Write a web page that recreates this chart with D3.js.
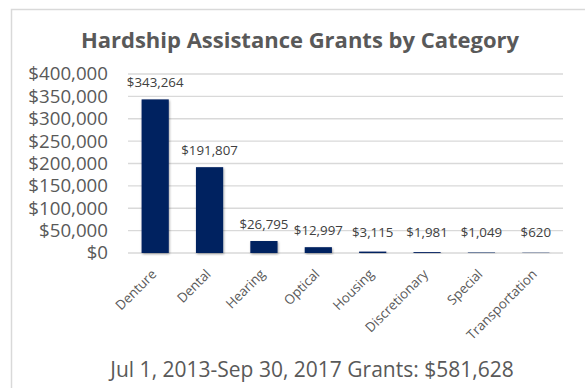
<!DOCTYPE html>
<html>
<head>
<meta charset="utf-8">
<script src="https://cdn.jsdelivr.net/npm/d3@7"></script>
<style>
  html, body { margin: 0; padding: 0; background: #fff; }
  svg { display: block; font-family: "Open Sans", "Liberation Sans", sans-serif; }
</style>
</head>
<body>
<svg id="chart" width="585" height="388"></svg>
<script>
// Grant totals per hardship category
const categories = ["Denture", "Dental", "Hearing", "Optical", "Housing", "Discretionary", "Special", "Transportation"];
const grants = [343264, 191807, 26795, 12997, 3115, 1981, 1049, 620];
const yTicks = [0, 50000, 100000, 150000, 200000, 250000, 300000, 350000, 400000];
const title = "Hardship Assistance Grants by Category";
const footer = "Jul 1, 2013-Sep 30, 2017 Grants: $581,628";

const svg = d3.select("#chart");
const W = 585, H = 388;
const plot = { left: 128, right: 563, top: 74, bottom: 253 };

const money = v => "$" + d3.format(",")(v);

// chart frame
svg.append("rect")
  .attr("x", 11.5).attr("y", 9.5)
  .attr("width", W).attr("height", H)
  .attr("fill", "#fff")
  .attr("stroke", "#d9d9d9").attr("stroke-width", 1.5);

const defs = svg.append("defs");
const f = defs.append("filter").attr("id", "shadow")
  .attr("x", "-30%").attr("y", "-10%").attr("width", "160%").attr("height", "130%");
f.append("feDropShadow").attr("dx", 0.8).attr("dy", 1.2).attr("stdDeviation", 1.2)
  .attr("flood-color", "#000").attr("flood-opacity", 0.35);

const x = d3.scaleBand().domain(categories).range([plot.left, plot.right]).paddingInner(0.5).paddingOuter(0.25);
const y = d3.scaleLinear().domain([0, 400000]).range([plot.bottom, plot.top]);

// gridlines
svg.append("g")
  .selectAll("line").data(yTicks).join("line")
  .attr("x1", plot.left).attr("x2", plot.right)
  .attr("y1", d => y(d)).attr("y2", d => y(d))
  .attr("stroke", "#d9d9d9").attr("stroke-width", d => d === 0 ? 1.6 : 1.3);

// y axis labels
const yAxis = svg.append("g")
  .attr("transform", `translate(${plot.left - 20},0)`)
  .call(d3.axisLeft(y).tickValues(yTicks).tickFormat(money).tickSize(0).tickPadding(0));
yAxis.select(".domain").remove();
yAxis.selectAll("text")
  .attr("font-family", "Open Sans").attr("font-size", 18.7).attr("fill", "#595959");

// bars
svg.append("g").selectAll("rect").data(grants).join("rect")
  .attr("x", (d, i) => x(categories[i]))
  .attr("y", d => y(d))
  .attr("width", x.bandwidth())
  .attr("height", d => y(0) - y(d))
  .attr("fill", "#002060")
  .attr("filter", "url(#shadow)");

// value labels
svg.append("g").selectAll("text").data(grants).join("text")
  .attr("x", (d, i) => x(categories[i]) + x.bandwidth() / 2)
  .attr("y", d => Math.min(y(d), y(0) - 4) - 12)
  .attr("text-anchor", "middle")
  .attr("font-size", 13.3).attr("fill", "#404040")
  .text(d => money(d));

// category labels, rotated
const xAxis = svg.append("g")
  .attr("transform", `translate(0,${plot.bottom})`)
  .call(d3.axisBottom(x).tickSize(0).tickPadding(0));
xAxis.select(".domain").remove();
xAxis.selectAll("text")
  .attr("font-family", "Open Sans").attr("font-size", 13.3).attr("fill", "#595959")
  .attr("text-anchor", "end")
  .attr("dy", null)
  .attr("transform", "translate(2,22) rotate(-45)");

// title
svg.append("text")
  .attr("x", 300).attr("y", 48)
  .attr("text-anchor", "middle")
  .attr("font-size", 22).attr("font-weight", "bold").attr("fill", "#595959")
  .text(title);

// footer
svg.append("text")
  .attr("x", 312).attr("y", 377)
  .attr("text-anchor", "middle")
  .attr("font-size", 21).attr("fill", "#595959")
  .text(footer);
</script>
</body>
</html>
